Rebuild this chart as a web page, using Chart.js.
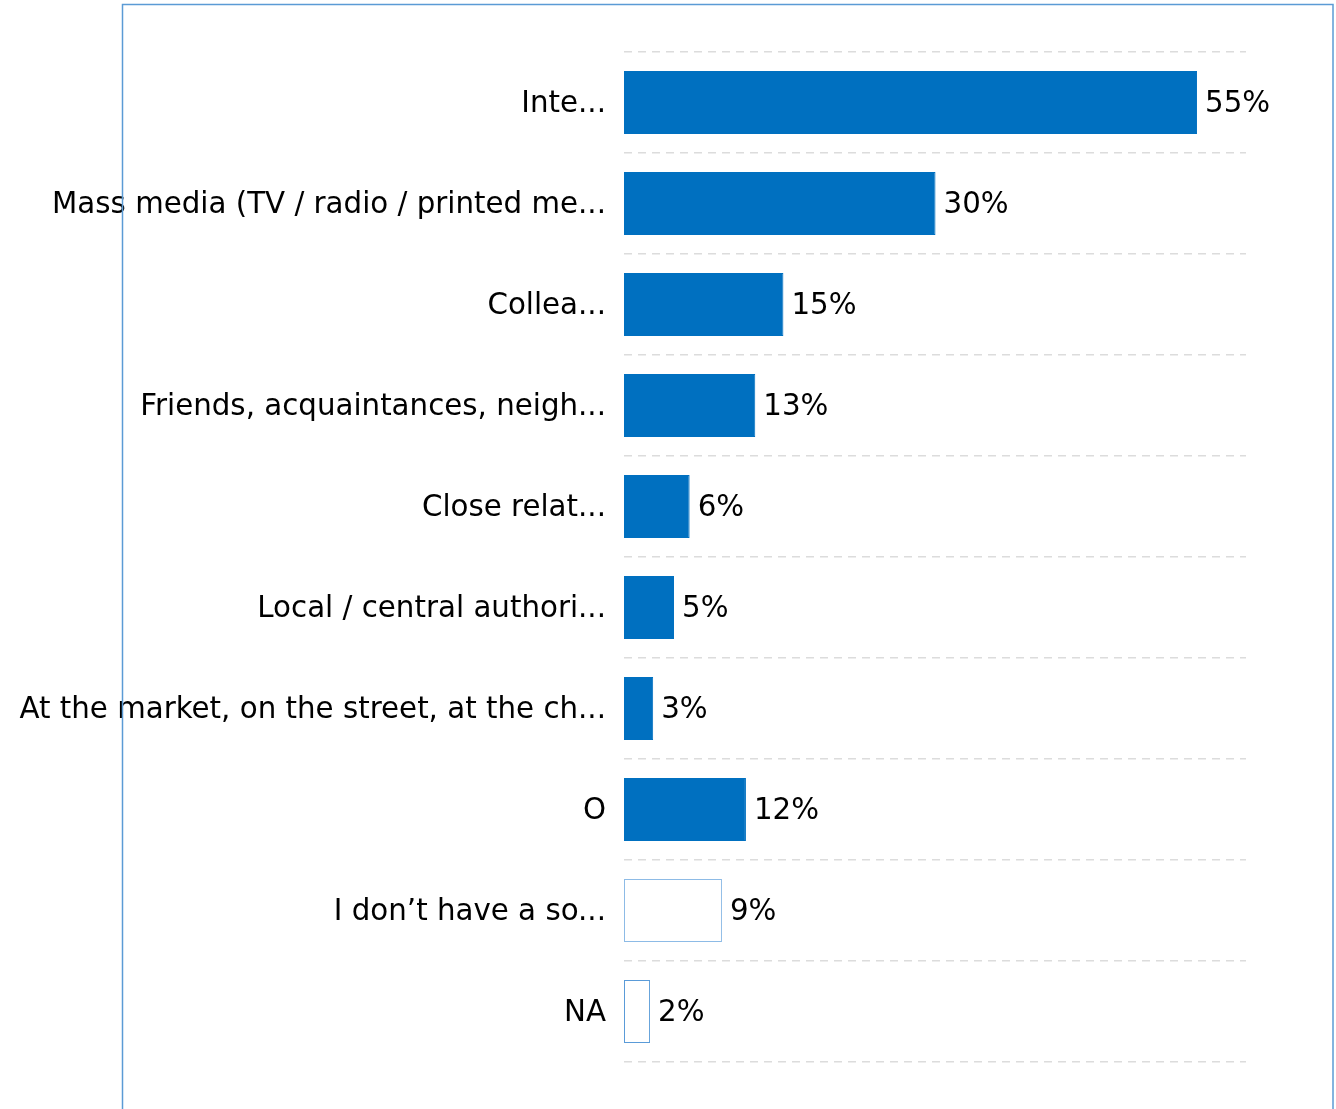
<!DOCTYPE html>
<html>
<head>
<meta charset="utf-8">
<script src="https://cdn.jsdelivr.net/npm/chart.js@4.4.0/dist/chart.umd.min.js"></script>
<style>
    html, body { margin: 0; padding: 0; background: #fff; }
    #wrap { position: relative; width: 1336px; height: 1109px; }
</style>
</head>
<body>
<div id="wrap"><canvas id="chart"></canvas></div>
<script>
// labels (truncated as shown), bar lengths, printed percentages
const categories = [
    'Inte...',
    'Mass media (TV / radio / printed me...',
    'Collea...',
    'Friends, acquaintances, neigh...',
    'Close relat...',
    'Local / central authori...',
    'At the market, on the street, at the ch...',
    'O',
    'I don\u2019t have a so...',
    'NA'
];
const values = [55.0, 29.9, 15.3, 12.6, 6.3, 4.8, 2.8, 11.7, 9.4, 2.5];
const valueTexts = ['55%', '30%', '15%', '13%', '6%', '5%', '3%', '12%', '9%', '2%'];
const fillColors = ['#0070c0', '#0070c0', '#0070c0', '#0070c0', '#0070c0', '#0070c0', '#0070c0', '#0070c0', '#ffffff', '#ffffff'];
const edgeColors = ['#0070c0', '#0070c0', '#0070c0', '#0070c0', '#0070c0', '#0070c0', '#0070c0', '#0070c0', '#8dbbe6', '#5a9bd8'];

const fontFamily = '"DejaVu Sans", sans-serif';

// valeurs en bout de barre
const valueLabels = {
    id: 'valueLabels',
    afterDatasetsDraw(chart) {
        let ctx = chart.ctx;
        let meta = chart.getDatasetMeta(0);
        ctx.save();
        ctx.font = '29.3px ' + fontFamily;
        ctx.fillStyle = '#000';
        ctx.textAlign = 'left';
        ctx.textBaseline = 'middle';
        meta.data.forEach((bar, i) => {
            ctx.fillText(valueTexts[i], bar.x + 8, bar.y + 2);
        });
        ctx.restore();
    }
};

// cadre bleu
const frame = {
    id: 'frame',
    afterDraw(chart) {
        let ctx = chart.ctx;
        ctx.save();
        ctx.strokeStyle = '#5b9bd5';
        ctx.lineWidth = 1.5;
        ctx.strokeRect(122.5, 4.5, 1210.5, 1120);
        ctx.restore();
    }
};

let config = {
    type: 'bar',
    data: {
        labels: categories,
        datasets: [{
            data: values,
            backgroundColor: fillColors,
            borderColor: edgeColors,
            borderWidth: 1,
            borderSkipped: false,
            barPercentage: 0.625,
            categoryPercentage: 1
        }]
    },
    options: {
        indexAxis: 'y',
        responsive: false,
        animation: false,
        layout: { padding: { top: 52, bottom: 47, right: 90, left: 0 } },
        plugins: {
            legend: { display: false },
            tooltip: { enabled: false }
        },
        scales: {
            x: {
                display: false,
                min: 0,
                max: 59.7
            },
            y: {
                afterFit: (scale) => { scale.width = 624; },
                border: { display: false, dash: [8, 6] },
                grid: {
                    offset: true,
                    color: '#dcdcdc',
                    lineWidth: 1.5,
                    drawTicks: false
                },
                ticks: {
                    color: '#000',
                    padding: 18,
                    labelOffset: 2,
                    font: { size: 29.3, family: fontFamily }
                }
            }
        }
    },
    plugins: [valueLabels, frame]
};

let canvas = document.getElementById('chart');
canvas.width = 1336;
canvas.height = 1109;
new Chart(canvas, config);
</script>
</body>
</html>
